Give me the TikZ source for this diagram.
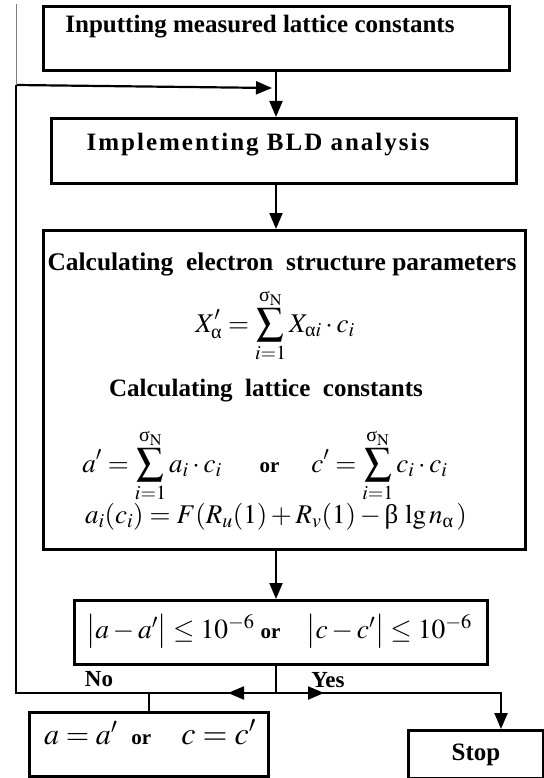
\documentclass[tikz,border=0pt]{standalone}
\usepackage{amsmath}
\usepackage{mathptmx}
\usepackage[no-math]{fontspec}
\setmainfont{Liberation Serif}
\usetikzlibrary{arrows.meta,calc}
\newcommand\ga{\text{\normalfont α}}
\newcommand\gb{\text{\normalfont β}}
\newcommand\gsN{\text{\normalfont σ}_{\mathrm{N}}}
\newcommand\orword{\text{\normalfont\bfseries\fontsize{21}{24}\selectfont or}}
\tikzset{
  x=1pt,y=-1pt,
  box/.style={draw,line width=2.6pt,inner sep=0pt,anchor=north west},
  conn/.style={line width=2.2pt},
  arr/.style={line width=2.2pt,-{Triangle[length=16pt,width=13pt]}},
  ttl/.style={font=\bfseries\fontsize{25}{28}\selectfont,inner sep=0pt},
  lbl/.style={font=\bfseries\fontsize{23}{26}\selectfont,inner sep=0pt},
  mth/.style={font=\fontsize{27}{32}\selectfont,inner sep=0pt,anchor=base},
}
\begin{document}
\begin{tikzpicture}
\useasboundingbox (0,0) rectangle (543,778);
% boxes
\node[box,minimum width=466pt,minimum height=64pt] (b1) at (42,5) {};
\node[box,minimum width=465pt,minimum height=65pt] (b2) at (50,117) {};
\node[box,minimum width=482pt,minimum height=319pt] (b3) at (42,229) {};
\node[box,minimum width=413pt,minimum height=64pt] (b4) at (73,599) {};
\node[box,minimum width=239pt,minimum height=64pt] (b5) at (28,711) {};
\node[box,minimum width=135pt,minimum height=48pt] (b6) at (407,729) {};
% texts
\node[ttl] (t1) at (260,27) {Inputting measured lattice constants};
\node[ttl] (t2) at (258,145) {\addfontfeature{LetterSpace=8}Implementing BLD analysis};
\node[ttl,font=\bfseries\fontsize{25.4}{28}\selectfont] (t3) at (282,264) {Calculating\hspace{13pt}electron\hspace{13pt}structure parameters};
\node[mth] (f1) at (275,332) {$\displaystyle X'_{\ga}=\sum_{i=1}^{\gsN} X_{\ga i}\cdot c_i$};
\node[ttl] (t4) at (266,391) {Calculating\ \ lattice\ \ constants};
\node[mth] (f2) at (265,472) {$\displaystyle a'=\sum_{i=1}^{\gsN} a_i\cdot c_i\hspace{38pt}\orword\hspace{32pt}c'=\sum_{i=1}^{\gsN} c_i\cdot c_i$};
\node[mth] (f3) at (276,523) {$a_i(c_i)=F(R_u(1)+R_v(1)-\gb\ \mathrm{lg}\,n_{\ga}\,)$};
\node[mth,font=\fontsize{27.5}{32}\selectfont] (f4) at (279,638) {$\big|a-a'\big|\le 10^{-6}\hspace{6pt}\orword\hspace{26pt}\big|c-c'\big|\le 10^{-6}$};
\node[mth,font=\fontsize{30}{34}\selectfont] (f5) at (150,744) {$a=a'\hspace{14pt}\orword\hspace{30pt}\text{\fontsize{32}{36}\selectfont $c=c'$}$};
\node[ttl] (t6) at (476,755) {Stop};
\node[lbl] (no) at (99,679) {No};
\node[lbl] (yes) at (328,680) {Yes};
% connector points
\coordinate (j) at (276,693);
\coordinate (lc) at (16,693);
\coordinate (tc) at (16,85);
\coordinate (gt) at (16,4);
\coordinate (fb) at (272,88);
\coordinate (la) at (228,693);
\coordinate (ra) at (324,693);
\coordinate (rc) at (501,693);
\coordinate (tk) at (149,693);
% connectors
\draw[arr] (b1.south -| j) -- (b2.north -| j);
\draw[arr] (b2.south -| j) -- (b3.north -| j);
\draw[arr] (b3.south -| j) -- (b4.north -| j);
\draw[conn] (b4.south -| j) -- (j);
\draw[conn] (j) -- (lc) -- (tc);
\draw[arr] (tc) -- (fb);
\draw[gray,line width=1pt] (tc) -- (gt);
\draw[arr] (j) -- (la);
\draw[arr] (j) -- (ra);
\draw[arr] (j) -- (rc) -- (rc |- b6.north);
\draw[conn] (tk) -- (tk |- b5.north);
\end{tikzpicture}
\end{document}
